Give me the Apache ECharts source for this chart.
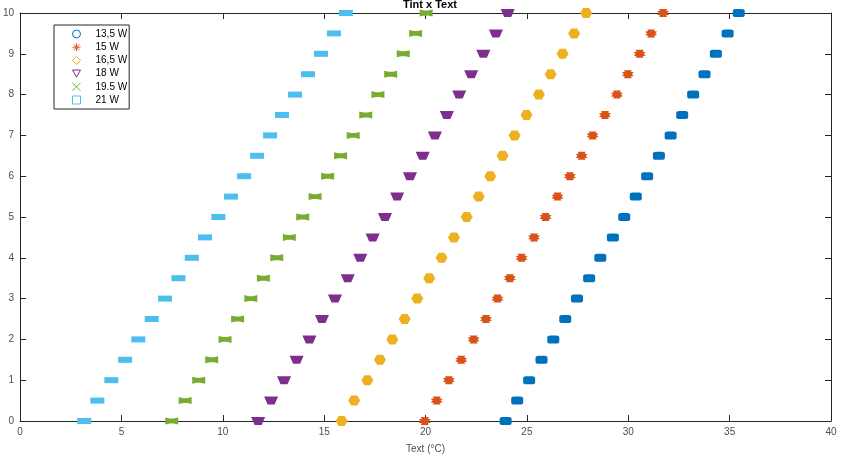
<!DOCTYPE html>
<html>
<head>
<meta charset="utf-8">
<script src="https://cdn.jsdelivr.net/npm/echarts@6/dist/echarts.min.js"></script>
<style>
  html, body { margin: 0; padding: 0; background: #fff; }
  #chart { width: 841px; height: 460px; }
</style>
</head>
<body>
<div id="chart"></div>
<script>
// Tint values (y) shared by every series
const tint = [0, 0.5, 1, 1.5, 2, 2.5, 3, 3.5, 4, 4.5, 5, 5.5, 6, 6.5, 7, 7.5, 8, 8.5, 9, 9.5, 10];

// Text values (x) per heating power
const text13_5 = [23.95, 24.52, 25.11, 25.72, 26.30, 26.89, 27.47, 28.07, 28.62, 29.24, 29.80, 30.37, 30.93, 31.51, 32.09, 32.66, 33.20, 33.76, 34.32, 34.90, 35.45];
const text15 = [19.96, 20.55, 21.15, 21.76, 22.37, 22.98, 23.55, 24.16, 24.74, 25.35, 25.92, 26.51, 27.12, 27.70, 28.24, 28.85, 29.44, 29.98, 30.56, 31.13, 31.72];
const text16_5 = [15.86, 16.48, 17.13, 17.75, 18.36, 18.97, 19.59, 20.18, 20.79, 21.40, 22.03, 22.62, 23.19, 23.80, 24.39, 24.98, 25.59, 26.17, 26.76, 27.33, 27.92];
const text18 = [11.74, 12.38, 13.02, 13.64, 14.27, 14.89, 15.53, 16.16, 16.78, 17.39, 18.00, 18.60, 19.23, 19.86, 20.46, 21.05, 21.66, 22.25, 22.85, 23.47, 24.05];
const text19_5 = [7.48, 8.14, 8.81, 9.45, 10.11, 10.73, 11.38, 12.00, 12.66, 13.28, 13.94, 14.55, 15.17, 15.81, 16.43, 17.05, 17.65, 18.28, 18.90, 19.51, 20.03];
const text21 = [3.16, 3.81, 4.50, 5.18, 5.83, 6.49, 7.15, 7.81, 8.47, 9.12, 9.78, 10.40, 11.05, 11.69, 12.33, 12.92, 13.56, 14.20, 14.84, 15.48, 16.07];

const seriesNames = ["13,5 W", "15 W", "16,5 W", "18 W", "19.5 W", "21 W"];
const seriesText = [text13_5, text15, text16_5, text18, text19_5, text21];
const colors = ["#0072BD", "#D95319", "#EDB120", "#7E2F8E", "#77AC30", "#4DBEEE"];

const xTicks = { min: 0, max: 40, interval: 5 };
const yTicks = { min: 0, max: 10, interval: 1 };

// plot markers (blobs as they appear in the figure)
const markerSymbols = [
  "roundRect",
  "path://M2,0 L10,0 L9,2 L12,3 L10,5 L12,7 L9,8 L10,10 L2,10 L3,8 L0,7 L2,5 L0,3 L3,2 Z",
  "path://M3,0 L9,0 L12,5 L9,10 L3,10 L0,5 Z",
  "path://M0,0 L20,0 L15,10 L5,10 Z",
  "path://M0,0 L7,1.5 L13,1.5 L20,0 L20,10 L13,8.5 L7,8.5 L0,10 Z",
  "rect",
];
const markerSizes = [[12, 8], [12, 8], [12, 10], [14, 8], [13, 7], [14, 6]];

// legend icons (hollow MATLAB markers)
const legendIcons = [
  "circle",
  "path://M5,0L5,10M0,5L10,5M1.5,1.5L8.5,8.5M8.5,1.5L1.5,8.5",
  "path://M5,0L10,5L5,10L0,5Z",
  "path://M0,0L10,0L5,9Z",
  "path://M0,0L10,10M10,0L0,10",
  "rect",
];

const axisColor = "#262626";
const labelColor = "#4d4d4d";

const chart = echarts.init(document.getElementById("chart"));

const tickStyle = { show: true, inside: true, length: 6, lineStyle: { color: axisColor } };
const lineStyle = { show: true, onZero: false, lineStyle: { color: axisColor } };

const option = {
  animation: false,
  backgroundColor: "#fff",
  title: {
    text: "Tint x Text",
    left: 425,
    textAlign: "center",
    top: -6,
    textStyle: { fontFamily: "Liberation Sans", fontSize: 11, fontWeight: "bold", color: "#000" },
  },
  grid: { left: 20, right: 10, top: 13, bottom: 39 },
  legend: {
    orient: "vertical",
    left: 54,
    top: 25,
    padding: [3, 2, 3, 18],
    itemWidth: 8,
    itemHeight: 8,
    itemGap: 1.2,
    backgroundColor: "#fff",
    borderColor: axisColor,
    borderWidth: 1,
    textStyle: { fontFamily: "Liberation Sans", fontSize: 10, lineHeight: 12, color: "#000", padding: [0, 0, 0, 10] },
    data: seriesNames.map((n, i) => ({
      name: n,
      icon: legendIcons[i],
      itemStyle: { color: "transparent", borderColor: colors[i], borderWidth: 1 },
    })),
  },
  xAxis: [
    {
      type: "value",
      min: xTicks.min,
      max: xTicks.max,
      interval: xTicks.interval,
      name: "Text (°C)",
      nameLocation: "middle",
      nameGap: 23,
      nameTextStyle: { fontFamily: "Liberation Sans", fontSize: 10, color: labelColor },
      axisLine: lineStyle,
      axisTick: tickStyle,
      axisLabel: { fontFamily: "Liberation Sans", fontSize: 10, color: labelColor, margin: 6 },
      splitLine: { show: false },
    },
    {
      type: "value",
      position: "top",
      min: xTicks.min,
      max: xTicks.max,
      interval: xTicks.interval,
      axisLine: lineStyle,
      axisTick: tickStyle,
      axisLabel: { show: false },
      splitLine: { show: false },
    },
  ],
  yAxis: [
    {
      type: "value",
      min: yTicks.min,
      max: yTicks.max,
      interval: yTicks.interval,
      axisLine: lineStyle,
      axisTick: tickStyle,
      axisLabel: { fontFamily: "Liberation Sans", fontSize: 10, color: labelColor, margin: 6 },
      splitLine: { show: false },
    },
    {
      type: "value",
      position: "right",
      min: yTicks.min,
      max: yTicks.max,
      interval: yTicks.interval,
      axisLine: lineStyle,
      axisTick: tickStyle,
      axisLabel: { show: false },
      splitLine: { show: false },
    },
  ],
  series: seriesNames.map((name, i) => ({
    name: name,
    type: "scatter",
    symbol: markerSymbols[i],
    symbolSize: markerSizes[i],
    itemStyle: { color: colors[i], opacity: 1 },
    data: seriesText[i].map((x, k) => [x, tint[k]]),
    z: 2,
  })),
};

chart.setOption(option);
</script>
</body>
</html>
